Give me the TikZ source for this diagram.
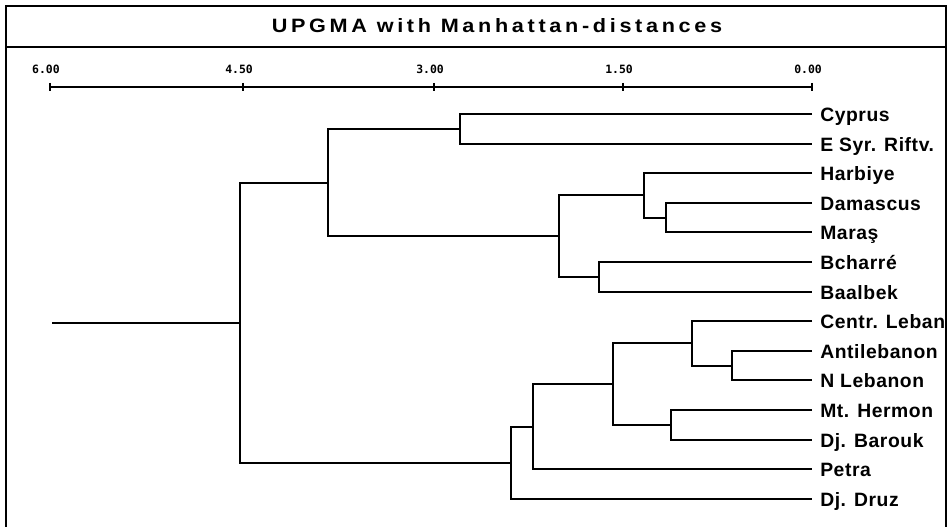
\documentclass[tikz,border=0pt]{standalone}
\usepackage{fontspec}
\setmainfont{Liberation Sans}
\newfontfamily\titlefont[FakeStretch=1.12,LetterSpace=19]{Liberation Sans}
\newfontfamily\leaffont[LetterSpace=3]{Liberation Sans}
\newfontfamily\axisfont{DejaVu Sans Mono}

\begin{document}
\begin{tikzpicture}[
    x=0.02cm, y=-0.02cm,
    leaf/.style={anchor=west, inner xsep=4.5pt, inner ysep=0pt,
                 text height=8pt, text depth=0pt,
                 font=\leaffont\fontsize{11}{13}\selectfont\bfseries},
    ticklabel/.style={font=\axisfont\fontsize{6.5}{8}\selectfont\bfseries},
    branch/.style={line width=1.2pt},
    frame/.style={line width=1pt}
  ]
  \useasboundingbox (0,0) rectangle (950,527);

  % frame and title
  \draw[frame] (6,527) -- (6,6) -- (946,6) -- (946,527);
  \draw[frame] (6,47) -- (946,47);
  \node[font=\titlefont\fontsize{11}{13}\selectfont\bfseries] (title) at (497,26)
        {UPGMA with Manhattan-distances};

  % distance scale
  \draw[branch] (50,87) -- (812,87);
  \foreach \x/\v in {50/6.00, 243/4.50, 434/3.00, 623/1.50, 812/0.00} {
    \draw[branch] (\x,83) -- (\x,91);
    \node[ticklabel] at (\x-4,69) {\v};
  }

  % leaves
  \node[leaf] (cyprus)   at (812,114) {Cyprus};
  \node[leaf] (esyr)     at (812,144) {E Syr. Riftv.};
  \node[leaf] (harbiye)  at (812,173) {Harbiye};
  \node[leaf] (damascus) at (812,203) {Damascus};
  \node[leaf] (maras)    at (812,232) {Maraş};
  \node[leaf] (bcharre)  at (812,262) {Bcharré};
  \node[leaf] (baalbek)  at (812,292) {Baalbek};
  \node[leaf] (centr)    at (812,321) {Centr. Leban};
  \node[leaf] (antileb)  at (812,351) {Antilebanon};
  \node[leaf] (nleb)     at (812,380) {N Lebanon};
  \node[leaf] (hermon)   at (812,410) {Mt. Hermon};
  \node[leaf] (barouk)   at (812,440) {Dj. Barouk};
  \node[leaf] (petra)    at (812,469) {Petra};
  \node[leaf] (druz)     at (812,499) {Dj. Druz};

  % joints
  \coordinate (c1) at (460,129);
  \coordinate (c2) at (666,218);
  \coordinate (c3) at (644,195);
  \coordinate (c4) at (599,277);
  \coordinate (c5) at (559,236);
  \coordinate (c6) at (328,183);
  \coordinate (d1) at (732,366);
  \coordinate (d2) at (692,343);
  \coordinate (d3) at (671,425);
  \coordinate (d4) at (613,384);
  \coordinate (d5) at (533,427);
  \coordinate (d6) at (511,463);
  \coordinate (root) at (240,323);
  \coordinate (stem) at (52,323);

  \draw[branch] (cyprus.west) -| (c1) |- (esyr.west);
  \draw[branch] (damascus.west) -| (c2) |- (maras.west);
  \draw[branch] (harbiye.west) -| (c3) |- (c2);
  \draw[branch] (bcharre.west) -| (c4) |- (baalbek.west);
  \draw[branch] (c3) -| (c5) |- (c4);
  \draw[branch] (c1) -| (c6) |- (c5);
  \draw[branch] (antileb.west) -| (d1) |- (nleb.west);
  \draw[branch] (centr.west) -| (d2) |- (d1);
  \draw[branch] (hermon.west) -| (d3) |- (barouk.west);
  \draw[branch] (d2) -| (d4) |- (d3);
  \draw[branch] (d4) -| (d5) |- (petra.west);
  \draw[branch] (d5) -| (d6) |- (druz.west);
  \draw[branch] (c6) -| (root) |- (d6);
  \draw[branch] (stem) -- (root);
\end{tikzpicture}
\end{document}
